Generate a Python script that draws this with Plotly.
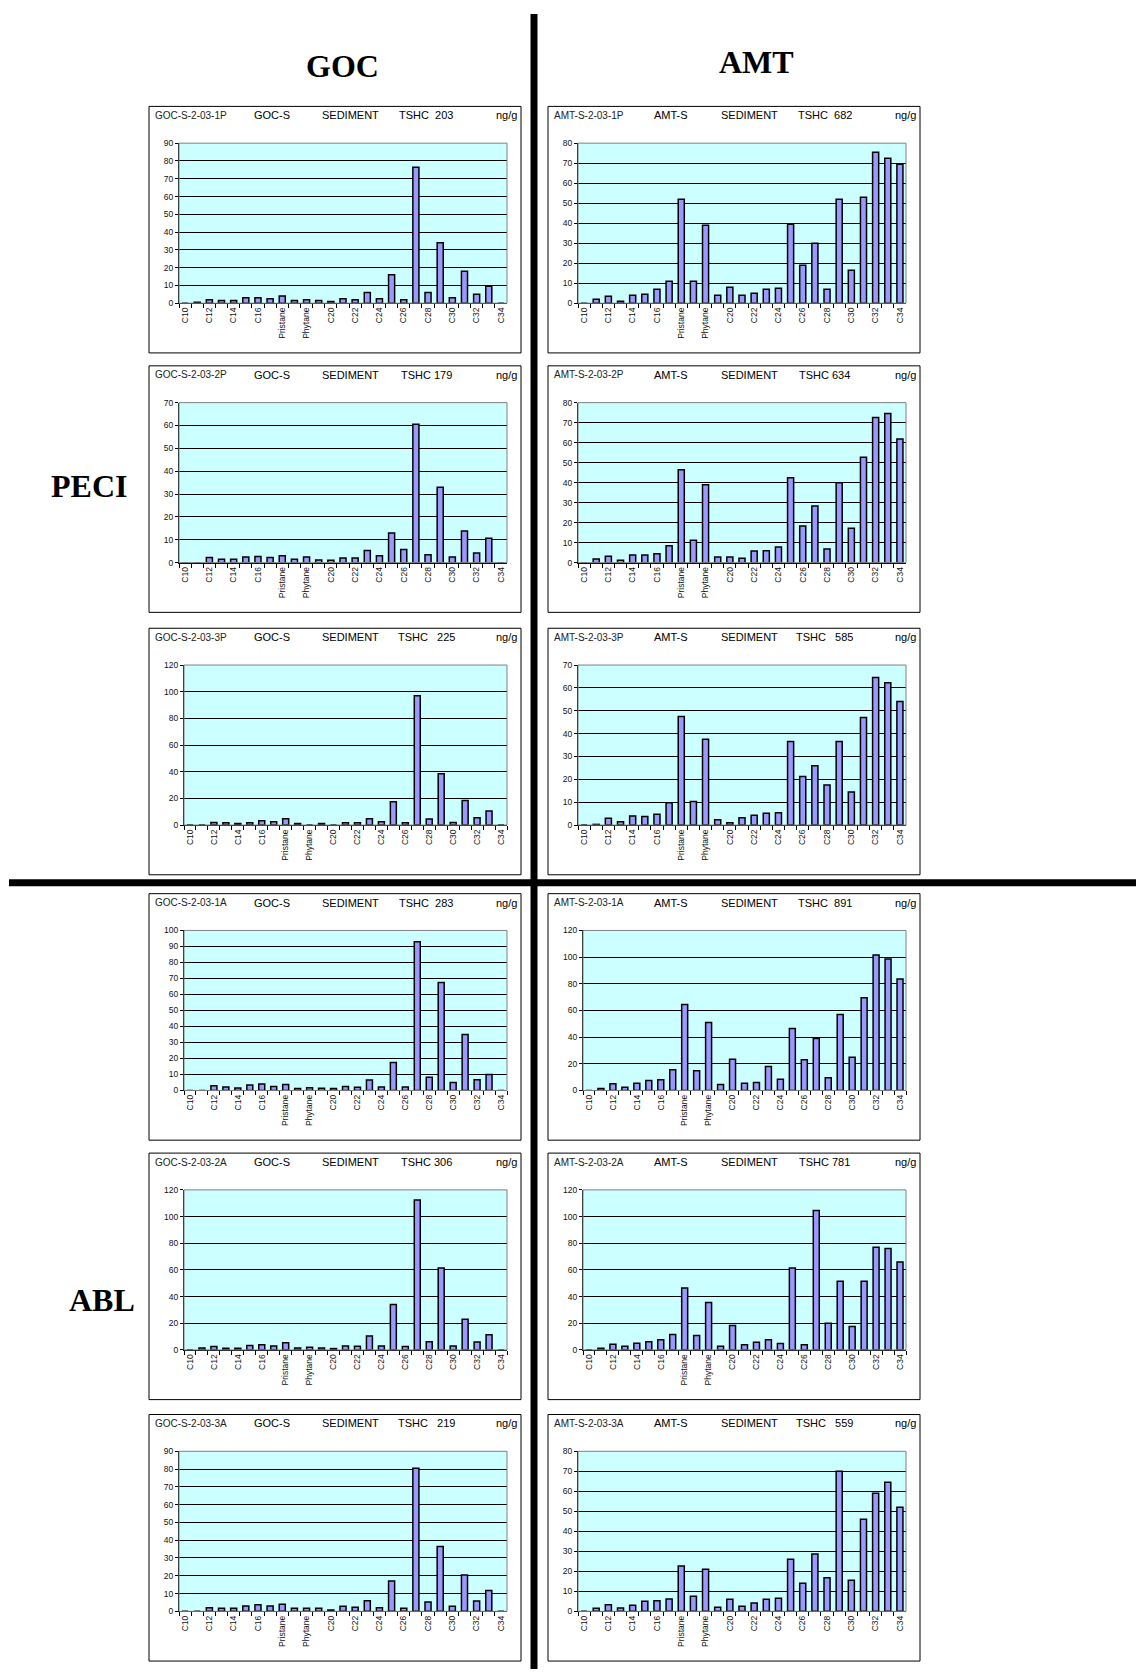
import plotly.graph_objects as go

W, H = 1136, 1674

CATEGORIES = ["C10", "C11", "C12", "C13", "C14", "C15", "C16", "C17", "Pristane", "C18",
              "Phytane", "C19", "C20", "C21", "C22", "C23", "C24", "C25", "C26", "C27",
              "C28", "C29", "C30", "C31", "C32", "C33", "C34"]
TICK_LABELS = [c if i % 2 == 0 else "" for i, c in enumerate(CATEGORIES)]

goc_1p = [0, 0.5, 2, 1.5, 1.5, 3, 3, 2.5, 4, 1.5, 2, 1.5, 1, 2.5, 2, 6, 2.5, 16, 2, 76.5, 6, 34, 3, 18, 5, 9.5, 0]
amt_1p = [0, 2, 3.5, 1, 4, 4.5, 7, 11, 52, 11, 39, 4, 8, 4, 5, 7, 7.5, 39.5, 19, 30, 7, 52, 16.5, 53, 75.5, 72.5, 69.5]
goc_2p = [0, 0, 2.3, 1.5, 1.5, 2.5, 2.7, 2.2, 3, 1.5, 2.5, 1.2, 1, 2, 2, 5.3, 3, 13, 5.8, 60.5, 3.5, 33, 2.5, 13.8, 4.2, 10.7, 0]
amt_2p = [0, 1.8, 3.2, 1.2, 3.8, 3.8, 4.5, 8.5, 46.5, 11.2, 39, 2.8, 2.8, 2.2, 5.8, 6, 7.8, 42.5, 18.3, 28.3, 6.8, 40, 17.2, 52.7, 72.5, 74.5, 61.8]
goc_3p = [0, 0, 2, 1.8, 1.2, 1.8, 3.2, 2.5, 4.8, 1.2, 0, 1.2, 0, 1.8, 1.8, 4.8, 2.5, 17.5, 1.8, 97, 4.5, 38.5, 2, 18.5, 5.5, 10.5, 0]
amt_3p = [0, 0.3, 3, 1.5, 4, 3.7, 4.7, 9.8, 47.5, 10.3, 37.5, 2.3, 1, 3.2, 4.3, 5.2, 5.4, 36.5, 21.2, 26, 17.5, 36.5, 14.5, 47, 64.5, 62.2, 54]
goc_1a = [0, 0, 3, 2.2, 1.5, 3.5, 4, 2.5, 3.8, 1.3, 1.7, 1.4, 1.3, 2.5, 2, 6.5, 2.2, 17.5, 2.2, 93, 8.2, 67.5, 5, 35, 6.7, 10, 0]
amt_1a = [0, 1.5, 5, 2.5, 5.5, 7.5, 8, 15.5, 64.5, 14.8, 51, 4.5, 23.5, 5.5, 6, 18, 8.5, 46.5, 23, 39, 9.5, 57, 25, 69.5, 101.5, 98.5, 83.5]
goc_2a = [0, 1.5, 2.5, 1.3, 1.3, 3.3, 3.8, 3, 5.3, 1.5, 2, 1.5, 1, 3, 2.8, 10.5, 3, 34, 2.5, 112.5, 6.2, 61.5, 3, 23, 6, 11.3, 0]
amt_2a = [0, 1.3, 4.2, 2.7, 5, 6.2, 7.7, 11.5, 46.5, 10.8, 35.5, 2.7, 18.3, 3.8, 5.8, 7.6, 4.8, 61.5, 3.8, 104.5, 20, 51.5, 17.5, 51.5, 77, 76, 66]
goc_3a = [0, 0, 2, 1.7, 1.7, 3, 3.7, 3, 4, 1.7, 1.8, 1.8, 0.8, 2.8, 2.3, 6, 2, 17, 1.7, 80.5, 5.2, 36.5, 2.8, 20.5, 5.8, 11.7, 0]
amt_3a = [0, 1.5, 3.3, 1.7, 3, 5, 5.3, 6.2, 22.7, 7.5, 21, 2, 6, 2.5, 4.2, 6, 6.5, 26, 14, 28.7, 16.8, 70, 15.5, 46, 59, 64.5, 52]

SAMPLE_IDS = ["GOC-S-2-03-1P", "AMT-S-2-03-1P", "GOC-S-2-03-2P", "AMT-S-2-03-2P",
              "GOC-S-2-03-3P", "AMT-S-2-03-3P", "GOC-S-2-03-1A", "AMT-S-2-03-1A",
              "GOC-S-2-03-2A", "AMT-S-2-03-2A", "GOC-S-2-03-3A", "AMT-S-2-03-3A"]
SITES = ["GOC-S", "AMT-S"] * 6
TSHC = ["TSHC  203", "TSHC  682", "TSHC 179", "TSHC 634", "TSHC   225", "TSHC   585",
        "TSHC  283", "TSHC  891", "TSHC 306", "TSHC 781", "TSHC   219", "TSHC   559"]
Y_MAX = [90, 80, 70, 80, 120, 70, 100, 120, 120, 120, 90, 80]
Y_STEP = [10, 10, 10, 10, 20, 10, 10, 20, 20, 20, 10, 10]
SERIES = [goc_1p, amt_1p, goc_2p, amt_2p, goc_3p, amt_3p,
          goc_1a, amt_1a, goc_2a, amt_2a, goc_3a, amt_3a]

COL_HEADERS = ["GOC", "AMT"]
ROW_HEADERS = ["PECI", "ABL"]

BOX_LEFT = [149, 548]
BOX_W = 372
BOX_TOP = [102, 363, 627, 894, 1155, 1418]
BOX_H = 248

def px(x):
    return x / W

def py(y):
    return 1 - y / H

fig = go.Figure()
shapes = []
annotations = []
FONT = "Liberation Sans, Arial, sans-serif"

for i in range(12):
    r, c = divmod(i, 2)
    bl, bt = BOX_LEFT[c], BOX_TOP[r]
    n = i + 1
    xa = "x" if n == 1 else f"x{n}"
    ya = "y" if n == 1 else f"y{n}"
    left = bl + (35 if Y_MAX[i] >= 100 else 30)
    right = bl + 358
    top = bt + 37
    bottom = top + 161
    fig.add_trace(go.Bar(x=CATEGORIES, y=SERIES[i], xaxis=xa, yaxis=ya,
                         marker=dict(color="#9999FF", line=dict(color="black", width=1.5)),
                         hoverinfo="skip", showlegend=False))
    xkey = "xaxis" if n == 1 else f"xaxis{n}"
    ykey = "yaxis" if n == 1 else f"yaxis{n}"
    fig.update_layout(**{
        xkey: dict(domain=[px(left), px(right)], anchor=ya, type="category",
                   categoryorder="array", categoryarray=CATEGORIES,
                   tickmode="array", tickvals=CATEGORIES, ticktext=TICK_LABELS,
                   tickson="boundaries", ticks="outside", ticklen=4, tickcolor="black",
                   tickangle=-90, tickfont=dict(size=8.5, family=FONT, color="#111"),
                   showline=True, linecolor="black", linewidth=1,
                   showgrid=False, range=[-0.5, 26.5], fixedrange=True),
        ykey: dict(domain=[py(bottom), py(top)], anchor=xa,
                   range=[0, Y_MAX[i]], dtick=Y_STEP[i], tick0=0,
                   ticks="outside", ticklen=3, tickcolor="black",
                   tickfont=dict(size=8.5, family=FONT, color="#111"),
                   showline=True, linecolor="black", linewidth=1,
                   showgrid=True, gridcolor="black", gridwidth=1,
                   zeroline=False, fixedrange=True),
    })
    # grey plot-area frame (top / right)
    shapes.append(dict(type="rect", xref="paper", yref="paper",
                       x0=px(left), x1=px(right), y0=py(bottom), y1=py(top),
                       line=dict(color="#808080", width=1), layer="above"))
    # panel box
    shapes.append(dict(type="rect", xref="paper", yref="paper",
                       x0=px(bl), x1=px(bl + BOX_W), y0=py(bt + BOX_H), y1=py(bt),
                       line=dict(color="black", width=1), layer="below"))
    ty = py(bt + 9)
    annotations += [
        dict(text=SAMPLE_IDS[i], x=px(bl + 4), y=ty, xanchor="left", yanchor="middle",
             font=dict(size=10, family=FONT, color="#222")),
        dict(text=SITES[i], x=px(bl + 123), y=ty, xanchor="center", yanchor="middle",
             font=dict(size=11, family=FONT, color="black")),
        dict(text="SEDIMENT", x=px(bl + 201), y=ty, xanchor="center", yanchor="middle",
             font=dict(size=11, family=FONT, color="black")),
        dict(text=TSHC[i], x=px(bl + 277), y=ty, xanchor="center", yanchor="middle",
             font=dict(size=11, family=FONT, color="black")),
        dict(text="ng/g", x=px(bl + 370), y=ty, xanchor="right", yanchor="middle",
             font=dict(size=11, family=FONT, color="black")),
    ]

for a in annotations:
    a.update(xref="paper", yref="paper", showarrow=False)

HEAD_FONT = dict(size=32, family="Liberation Serif, Times New Roman, serif", color="black")
annotations += [
    dict(text=f"<b>{COL_HEADERS[0]}</b>", x=px(342), y=py(61), xref="paper", yref="paper",
         showarrow=False, font=HEAD_FONT, xanchor="center", yanchor="middle"),
    dict(text=f"<b>{COL_HEADERS[1]}</b>", x=px(756), y=py(57), xref="paper", yref="paper",
         showarrow=False, font=HEAD_FONT, xanchor="center", yanchor="middle"),
    dict(text=f"<b>{ROW_HEADERS[0]}</b>", x=px(89), y=py(484), xref="paper", yref="paper",
         showarrow=False, font=HEAD_FONT, xanchor="center", yanchor="middle"),
    dict(text=f"<b>{ROW_HEADERS[1]}</b>", x=px(102), y=py(1303), xref="paper", yref="paper",
         showarrow=False, font=HEAD_FONT, xanchor="center", yanchor="middle"),
]

# thick separator lines
shapes.append(dict(type="line", xref="paper", yref="paper", x0=px(534), x1=px(534),
                   y0=py(9), y1=py(H), line=dict(color="black", width=7)))
shapes.append(dict(type="line", xref="paper", yref="paper", x0=px(9), x1=px(W),
                   y0=py(883), y1=py(883), line=dict(color="black", width=7)))

fig.update_layout(width=W, height=H, margin=dict(l=0, r=0, t=0, b=0),
                  paper_bgcolor="white", plot_bgcolor="#CCFFFF",
                  bargap=0.5, showlegend=False,
                  shapes=shapes, annotations=annotations)

fig.write_html("out.html", config={"displayModeBar": False})
